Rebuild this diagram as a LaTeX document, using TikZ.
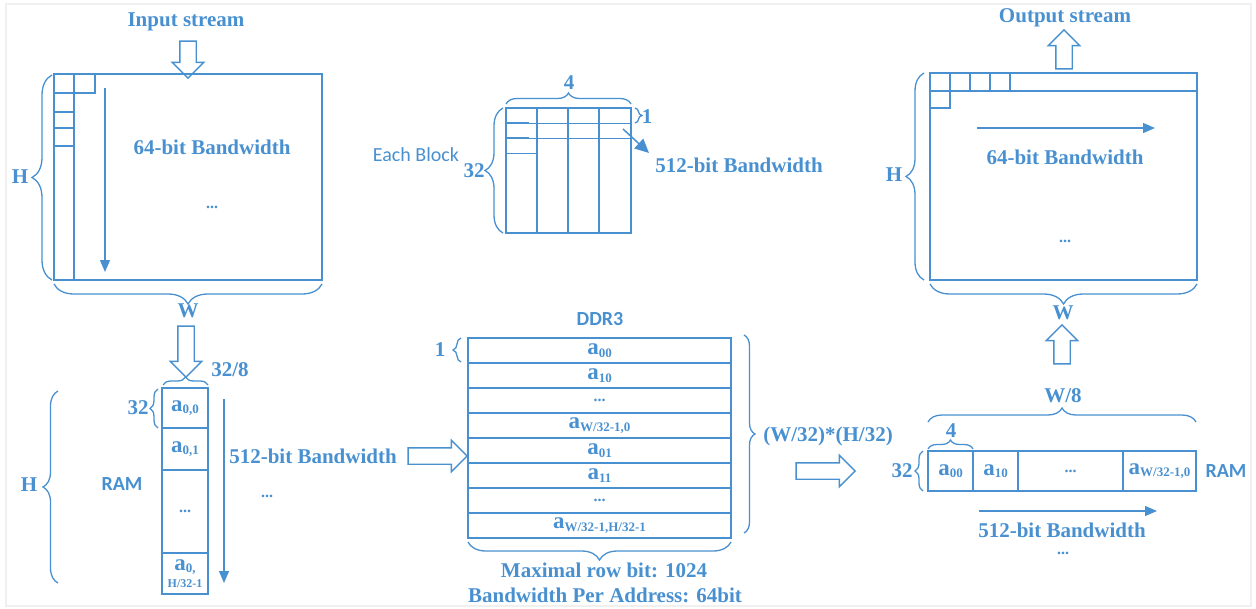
\documentclass[tikz,border=0pt]{standalone}
\usepackage{fontspec}
\setmainfont{Liberation Serif}
\newfontfamily\calfont{Carlito}
\usetikzlibrary{arrows.meta,positioning,shapes.arrows,decorations.pathreplacing}
\definecolor{bl}{RGB}{72,144,208}
\newcommand\lbfont{\fontsize{21}{23}\selectfont\bfseries}
\newcommand\ent[1]{{\fontsize{23}{23}\selectfont a}\raisebox{-2.5pt}{\fontsize{13}{13}\selectfont #1}}
\newcommand\more{{\fontsize{16}{16}\selectfont...}}

\begin{document}
\begin{tikzpicture}[x=1pt,y=-1pt,
  lab/.style={text=bl,font=\lbfont,inner sep=0pt},
  sanslab/.style={text=bl,font=\calfont\fontsize{20}{22}\selectfont,inner sep=0pt},
  sansbold/.style={text=bl,font=\calfont\bfseries\fontsize{20}{22}\selectfont,inner sep=0pt},
  pane/.style={draw=bl,line width=1.5pt},
  cell/.style={draw=bl,line width=1.5pt,inner sep=0pt,outer sep=0pt,text=bl,font=\lbfont},
  gline/.style={bl,line width=0.8pt},
  brc/.style={bl,line width=1.3pt,decorate,decoration={brace,amplitude=#1}},
  harrow/.style={draw=bl,line width=1.4pt,single arrow,single arrow head extend=7.5pt,single arrow head indent=0pt,inner xsep=0pt,inner ysep=7.5pt,text height=0pt,text depth=0pt},
  flow/.style={bl,line width=1.3pt,-{Triangle[length=12pt,width=10pt]}}]
\useasboundingbox (0,0) rectangle (1256,608);
\draw[black!6,line width=1.5pt] (6,4) rectangle (1251,606);

% input stream
\node[lab] (instr) at (186,22) {Input stream};
\node[harrow,minimum height=37pt,rotate=-90] (inarr) at (188,55.5) {};
\node[pane,inner sep=0pt,outer sep=0pt,minimum width=268pt,minimum height=206pt,anchor=north west] (inframe) at (54,74) {};
\draw[pane] (74,74) -- (74,280);
\draw[pane] (74,74) rectangle (95,93);
\foreach \y in {93,112,128,146} \draw[pane] (54,\y) -- (74,\y);
\path (105,88) coordinate (scan1a) (105,272) coordinate (scan1b);
\draw[flow] (scan1a) -- (scan1b);
\node[lab] (inbw) at (212,147) {64-bit Bandwidth};
\node[lab] (indots) at (212,207) {\more};
\draw[brc=20] (52,280) -- (52,75);
\node[lab] (inH) at (20,177) {H};
\draw[brc=20] (322,284) -- (54,284);
\node[lab] (inW) at (188,311) {W};

% RAM column
\node[harrow,minimum height=51pt,rotate=-90] (warr) at (186,347.5) {};
\node[lab] (ramw) at (230,370) {32/8};
\draw[brc=8] (163,385) -- (208,385);
\node[cell,minimum width=46pt,minimum height=40pt] (r1) at (185,408) {\ent{0,0}};
\node[cell,minimum width=46pt,minimum height=42pt,below=0pt of r1] (r2) {\ent{0,1}};
\node[cell,minimum width=46pt,minimum height=83pt,below=0pt of r2] (r3) {\more};
\node[cell,minimum width=46pt,minimum height=41pt,below=0pt of r3,align=center] (r4) {\ent{0,}\\[-6pt]{\fontsize{12}{12}\selectfont H/32-1}};
\draw[brc=8] (158,428) -- (158,389);
\node[lab] (r32) at (138,408) {32};
\draw[brc=15] (58,583) -- (58,391);
\node[lab] (rH) at (29,485) {H};
\node[sansbold] (ramlab) at (122,484) {RAM};
\path (224,399) coordinate (scan2a) (224,583) coordinate (scan2b);
\draw[flow] (scan2a) -- (scan2b);
\node[lab] (rbw) at (313,456) {512-bit Bandwidth};
\node[lab] (rdots) at (267,496) {\more};
\node[harrow,minimum height=59pt] (ddrin) at (433.5,456) {};

% DDR3
\node[sansbold] (ddrlab) at (600,319) {DDR3};
\foreach \lbl [count=\i] in {{\ent{00}},{\ent{10}},{\more},{\ent{W/32-1,0}},{\ent{01}},{\ent{11}},{\more},{\ent{W/32-1,H/32-1}}}
  \node[cell,minimum width=263pt,minimum height=25pt] (d\i) at (599.5,325.5+25*\i) {\lbl};
\draw[brc=8] (461,362) -- (461,338);
\node[lab] (d1lab) at (440,350) {1};
\draw[brc=11] (744,335) -- (744,533);
\node[lab] (dcount) at (828,436) {(W/32)*(H/32)};
\draw[brc=18] (731,542) -- (468,542);
\node[lab] (dmax) at (604,570) {Maximal row bit: 1024};
\node[lab] (dbw) at (605,595) {Bandwidth Per Address: 64bit};
\node[harrow,minimum height=59pt] (ddrout) at (821.5,471) {};

% RAM out
\node[cell,minimum width=45pt,minimum height=40pt] (o1) at (950.5,471) {\ent{00}};
\node[cell,minimum width=45pt,minimum height=40pt,right=0pt of o1] (o2) {\ent{10}};
\node[cell,minimum width=105pt,minimum height=40pt,right=0pt of o2] (o3) {\more};
\node[cell,minimum width=73pt,minimum height=40pt,right=0pt of o3] (o4) {\ent{W/32-1,0}};
\node[sansbold] (oram) at (1226,471) {RAM};
\draw[brc=8] (923,491) -- (923,451);
\node[lab] (o32) at (902,471) {32};
\draw[brc=9] (928,449) -- (973,449);
\node[lab] (o4lab) at (951,431) {4};
\draw[brc=14] (928,422) -- (1196,422);
\node[lab] (ow8) at (1063,396) {W/8};
\path (979,511) coordinate (scan3a) (1157,511) coordinate (scan3b);
\draw[flow] (scan3a) -- (scan3b);
\node[lab] (obw) at (1062,530) {512-bit Bandwidth};
\node[lab] (odots) at (1063,553) {\more};
\node[harrow,minimum height=39pt,rotate=90] (outup) at (1062,348.5) {};
\node[lab] (outW) at (1063,313) {W};

% output stream
\node[pane,inner sep=0pt,outer sep=0pt,minimum width=267pt,minimum height=207pt,anchor=north west] (outframe) at (930,73) {};
\draw[pane] (930,91) -- (1197,91);
\foreach \x in {950,970,990,1010} \draw[pane] (\x,73) -- (\x,91);
\draw[pane] (930,108) -- (950,108) -- (950,91);
\path (977,128) coordinate (scan4a) (1155,128) coordinate (scan4b);
\draw[flow] (scan4a) -- (scan4b);
\node[lab] (outbw) at (1065,157) {64-bit Bandwidth};
\node[lab] (outdots) at (1065,241) {\more};
\draw[brc=18] (924,280) -- (924,73);
\node[lab] (outH) at (894,175) {H};
\draw[brc=20] (1197,284) -- (930,284);
\node[harrow,minimum height=39pt,rotate=90] (outarr) at (1064,53.5) {};
\node[lab] (outstr) at (1065,18) {Output stream};

% each block
\node[sanslab] (eachlab) at (416,155) {Each Block};
\draw[pane] (506,108) rectangle (631,233);
\foreach \x in {537,568,599} \draw[pane] (\x,108) -- (\x,233);
\foreach \y in {123,138} {\draw[gline] (506,\y) -- (631,\y); \draw[pane] (506,\y) -- (529,\y);}
\draw[gline] (506,153) -- (537,153);
\draw[brc=11] (506,104) -- (631,104);
\node[lab] (e4) at (569,83) {4};
\draw[brc=7] (635,108) -- (635,123);
\node[lab] (e1) at (647,117) {1};
\draw[brc=18] (503,233) -- (503,108);
\node[lab] (e32) at (474,171) {32};
\path (623,129) coordinate (eba) (649,153) coordinate (ebb);
\draw[bl,line width=1.5pt,-{Triangle[length=14pt,width=13pt]}] (eba) -- (ebb);
\node[lab] (ebw) at (739,165) {512-bit Bandwidth};
\end{tikzpicture}
\end{document}
